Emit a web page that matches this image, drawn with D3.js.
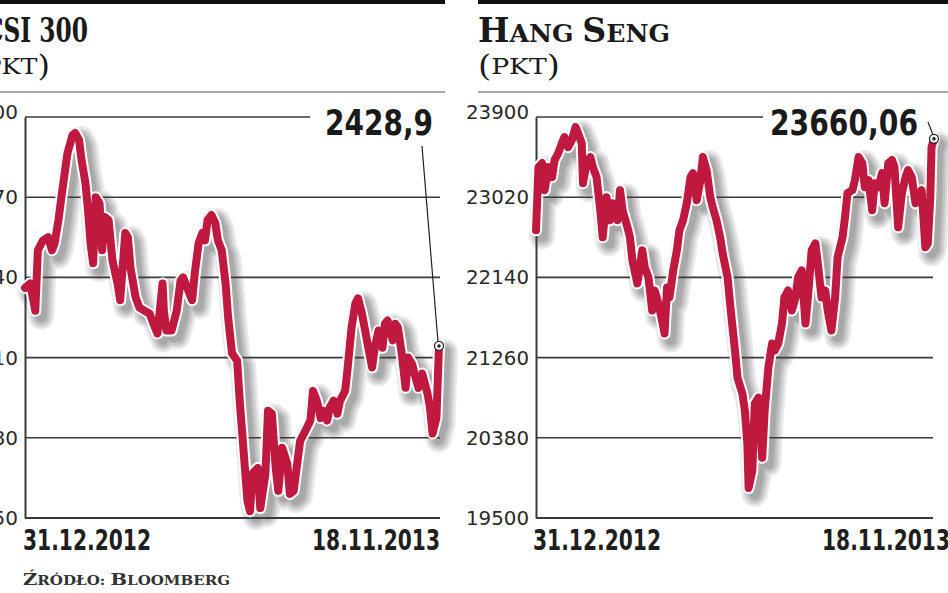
<!DOCTYPE html>
<html><head><meta charset="utf-8">
<script src="https://cdn.jsdelivr.net/npm/d3@7"></script>
<style>
html,body{margin:0;padding:0;background:#fff;overflow:hidden}
svg{display:block}
</style></head><body>
<svg id="c" width="948" height="593"></svg>
<script>
// ---- data ----
const dateLabels = ["31.12.2012", "18.11.2013"];
const totalDays = 322;
const csiTicks = [2150, 2280, 2410, 2540, 2670, 2800];
const hsiTicks = [19500, 20380, 21260, 22140, 23020, 23900];
const csiDays = [0,4,8,10,14,18,21,23,26,29,33,37,39,42,44,47,49,51,53,55,58,60,62,65,68,72,74,78,80,82,86,89,93,97,101,103,107,108,110,114,118,121,123,126,130,132,135,138,140,142,145,148,150,153,156,158,161,165,167,170,173,175,177,181,183,187,189,192,195,197,200,204,206,209,212,214,218,222,224,227,230,232,235,237,240,243,245,249,251,254,257,259,262,265,267,270,272,275,278,280,282,286,288,290,293,296,298,301,303,306,309,313,315,317,320,322];
const csiValues = [2523,2530,2486,2584,2600,2605,2584,2595,2633,2681,2741,2771,2774,2763,2730,2693,2649,2595,2563,2670,2660,2584,2638,2633,2568,2530,2503,2612,2605,2556,2508,2491,2486,2481,2459,2449,2530,2486,2454,2454,2486,2535,2540,2524,2503,2546,2595,2612,2600,2633,2641,2628,2600,2584,2530,2475,2417,2405,2340,2259,2178,2161,2222,2231,2166,2222,2324,2319,2231,2194,2264,2238,2189,2194,2243,2275,2291,2308,2356,2340,2312,2324,2308,2329,2340,2319,2340,2356,2394,2459,2498,2506,2482,2449,2426,2394,2426,2454,2426,2465,2470,2438,2465,2459,2417,2361,2410,2400,2384,2361,2384,2352,2329,2287,2312,2428.9];
const hsiDays = [0,2,5,7,10,13,15,18,21,23,26,29,32,34,37,38,41,44,46,49,52,54,57,60,62,66,68,70,74,76,78,82,86,88,91,94,96,99,102,104,106,108,111,114,116,119,122,125,127,130,133,135,138,141,143,146,149,151,155,157,159,161,163,167,169,171,172,175,177,180,183,185,188,191,193,196,199,201,204,207,210,212,215,218,220,223,226,228,231,234,236,239,242,244,248,250,252,256,258,261,264,266,269,272,274,277,280,282,285,288,290,293,296,299,301,304,307,309,312,315,317,319,320,322];
const hsiValues = [22657,23350,23394,23097,23350,23240,23427,23504,23614,23680,23570,23647,23790,23724,23614,23174,23394,23460,23350,23240,22877,22580,23020,22767,22954,22767,23097,22877,22690,22580,22327,22074,22437,22250,22140,21777,21997,21854,21667,21524,22030,21920,22217,22437,22657,22767,22954,23240,23284,22987,23207,23460,23317,23020,22910,22767,22580,22404,22140,21854,21590,21337,21040,20864,20677,20314,19830,20017,20754,20820,20160,20677,21150,21414,21337,21414,21634,21920,21997,21777,21920,22140,22217,21634,21920,22437,22514,22294,21920,21997,21777,21557,21920,22360,22580,22800,23064,23097,23207,23460,23394,23130,23207,22877,23174,23130,23284,22954,23394,23427,23350,22690,23064,23240,23317,23240,22954,23020,23097,22470,22514,23020,23570,23660.06];

const svg = d3.select("#c");
const serif = "'DejaVu Serif', serif";
const sans = "'DejaVu Sans Condensed','DejaVu Sans', sans-serif";
const shadowLayers = [26, 21, 17, 13, 10];

function panel(o){
  const g = svg.append("g");
  g.append("rect").attr("x",o.bx0).attr("y",0).attr("width",o.bx1-o.bx0).attr("height",4).attr("fill","#111");
  g.append("line").attr("x1",o.bx0).attr("x2",o.bx1).attr("y1",92).attr("y2",92).attr("stroke","#555").attr("stroke-width",1.2);
  const t = g.append("text").attr("x",o.tx).attr("y",42).attr("font-family",serif).attr("font-weight","bold").attr("fill","#1a1a1a");
  o.title.forEach(p=>t.append("tspan").attr("font-size",p[1]).text(p[0]));
  t.attr("textLength",o.tw).attr("lengthAdjust","spacingAndGlyphs");
  const u = g.append("text").attr("x",o.ux).attr("y",76).attr("font-family",serif).attr("fill","#1a1a1a");
  u.append("tspan").attr("font-size",29).text("(");
  u.append("tspan").attr("font-size",23).attr("dy",-2).text("PKT");
  u.append("tspan").attr("font-size",29).attr("dy",2).text(")");
  u.attr("textLength",o.uw).attr("lengthAdjust","spacingAndGlyphs");

  const x = d3.scaleLinear().domain([0,totalDays]).range([o.x0,o.x1]);
  const y = d3.scaleLinear().domain([o.ticks[0],o.ticks[o.ticks.length-1]]).range([518,117]);

  const data = o.days.map((d,i)=>({d, v:o.values[i]}));
  const line = d3.line().x(p=>x(p.d)).y(p=>y(p.v)).curve(d3.curveLinear);

  // soft shadow built from stacked translucent strokes
  const sg = g.append("g").attr("transform","translate(6,6)");
  shadowLayers.forEach(w=>{
    sg.append("path").datum(data).attr("d",line).attr("fill","none").attr("stroke","#555")
      .attr("stroke-opacity",0.13).attr("stroke-width",w).attr("stroke-linejoin","round").attr("stroke-linecap","round");
  });

  o.ticks.forEach((tk,i)=>{
    const last = i===o.ticks.length-1;
    g.append("line").attr("x1",o.x0).attr("x2", last? o.topEnd : o.gx1)
      .attr("y1",y(tk)).attr("y2",y(tk)).attr("stroke","#3a3a3a").attr("stroke-width", i===0?2:1.6);
  });
  const yAxis = d3.axisLeft(y).tickValues(o.ticks).tickSize(0).tickPadding(7).tickFormat(d3.format("d"));
  const ag = g.append("g").attr("transform",`translate(${o.x0},0)`).call(yAxis);
  ag.select(".domain").attr("stroke","#3a3a3a").attr("stroke-width",2);
  ag.selectAll("text").attr("font-family",sans).attr("font-size",19).attr("fill","#2a2a2a")
    .attr("dy", (d,i)=> i===o.ticks.length-1 ? "0.1em" : "0.34em")
    .attr("textLength", o.tickW).attr("lengthAdjust","spacingAndGlyphs");

  g.append("path").datum(data).attr("d",line).attr("fill","none").attr("stroke","#fff").attr("stroke-width",12).attr("stroke-linejoin","round").attr("stroke-linecap","round");
  g.append("path").datum(data).attr("d",line).attr("fill","none").attr("stroke","#c0193f").attr("stroke-width",8).attr("stroke-linejoin","round").attr("stroke-linecap","round");

  const lp = data[data.length-1];
  const px = x(lp.d), py = y(lp.v);
  g.append("line").attr("x1",o.lx).attr("y1",o.ly).attr("x2",px-1).attr("y2",py-4).attr("stroke","#222").attr("stroke-width",1.2);
  g.append("circle").attr("cx",px).attr("cy",py).attr("r",4.5).attr("fill","#fff").attr("stroke","#222").attr("stroke-width",1.3);
  g.append("circle").attr("cx",px).attr("cy",py).attr("r",1.8).attr("fill","#222");
  g.append("text").attr("x",o.vx).attr("y",135).attr("font-family",sans).attr("font-weight","bold").attr("font-size",35)
    .attr("fill","#1a1a1a").attr("textLength",o.vw).attr("lengthAdjust","spacingAndGlyphs").text(o.valLabel);

  [[o.d0,dateLabels[0]],[o.d1,dateLabels[1]]].forEach(dl=>{
    g.append("text").attr("x",dl[0]).attr("y",550).attr("font-family",sans).attr("font-weight","bold").attr("font-size",28).attr("fill","#1e1e1e")
      .attr("textLength",128).attr("lengthAdjust","spacingAndGlyphs").text(dl[1]);
  });
}

panel({bx0:0,bx1:445,tx:-15,tw:103,title:[["CSI 300",33]],ux:-28,uw:78,
  x0:25,x1:439,gx1:440,topEnd:310,ticks:csiTicks,tickW:51,days:csiDays,values:csiValues,
  lx:422,ly:146,vx:325,vw:108,valLabel:"2428,9",d0:23,d1:312});
panel({bx0:478,bx1:948,tx:478,tw:192,title:[["H",33],["ANG ",25],["S",33],["ENG",25]],ux:478,uw:82,
  x0:536,x1:934,gx1:933,topEnd:763,ticks:hsiTicks,tickW:63,days:hsiDays,values:hsiValues,
  lx:928,ly:122,vx:770,vw:148,valLabel:"23660,06",d0:533,d1:822});

const s = svg.append("text").attr("x",23).attr("y",585).attr("font-family",serif).attr("font-weight","bold").attr("fill","#333");
[["Ź",17],["RÓDŁO: ",13],["B",17],["LOOMBERG",13]].forEach(p=>s.append("tspan").attr("font-size",p[1]).text(p[0]));
s.attr("textLength",207).attr("lengthAdjust","spacingAndGlyphs");
</script>
</body></html>
